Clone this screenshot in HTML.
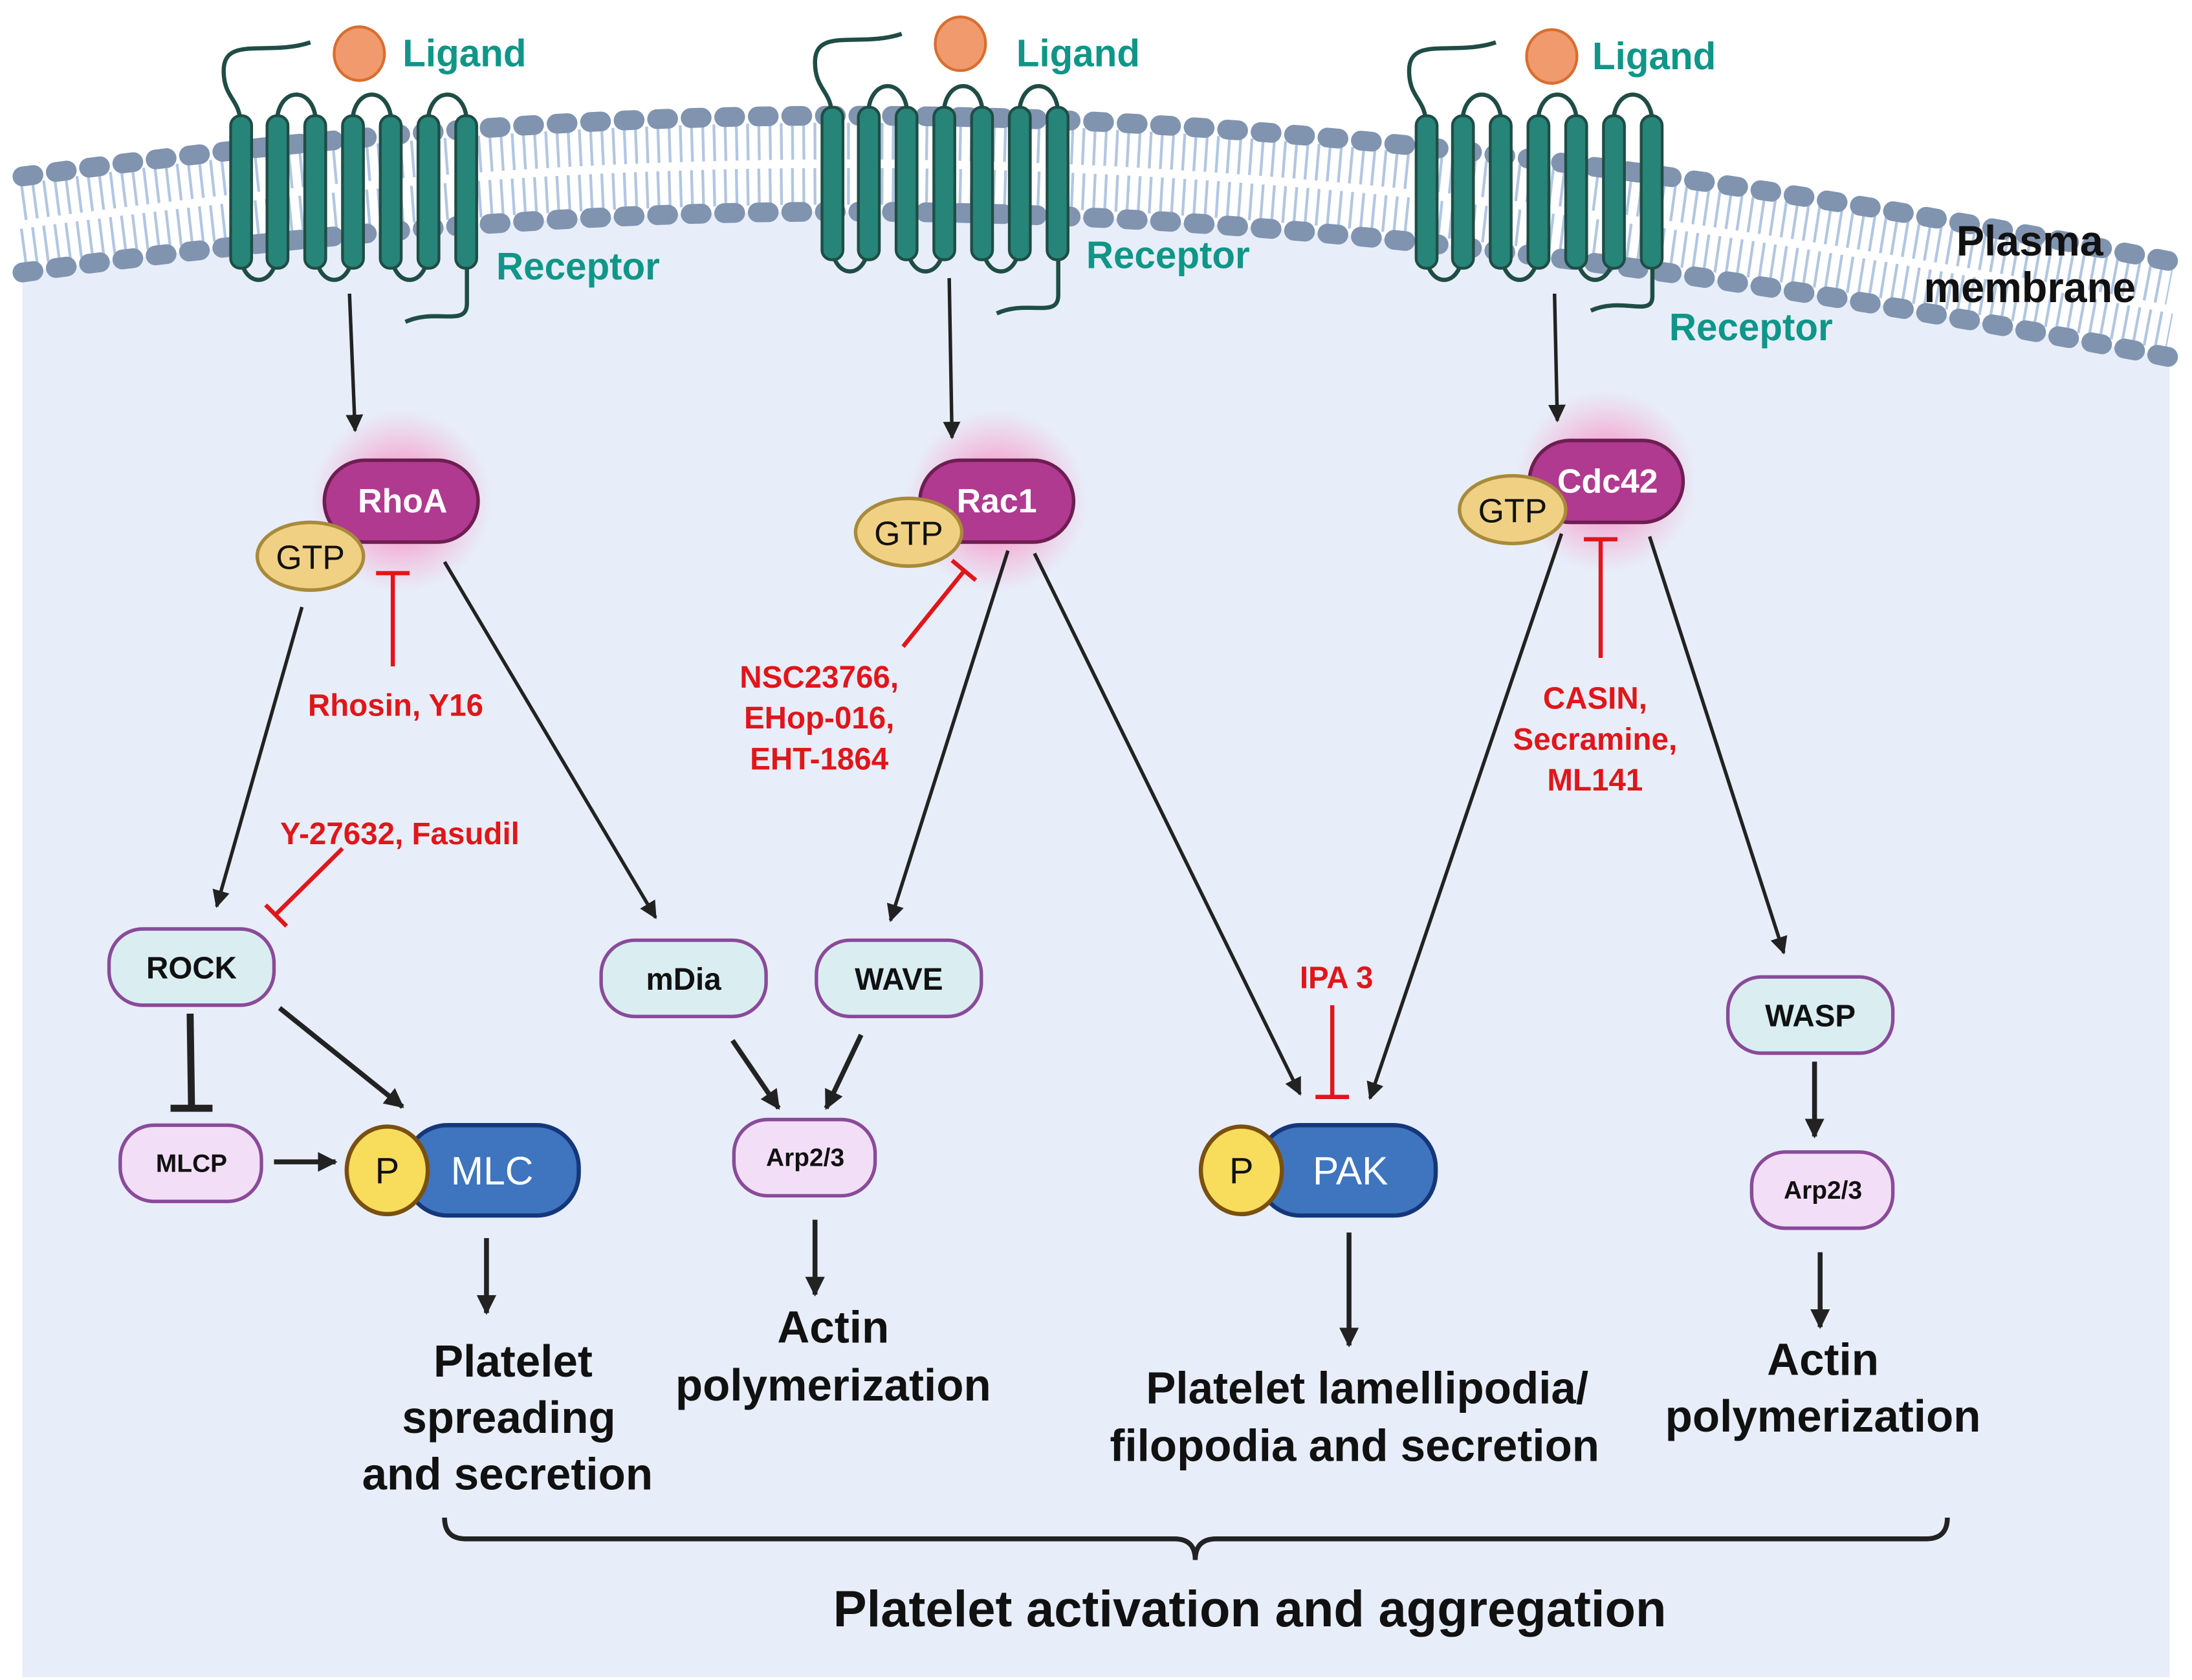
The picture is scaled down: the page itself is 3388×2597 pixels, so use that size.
<!DOCTYPE html>
<html><head><meta charset="utf-8"><style>html,body{margin:0;padding:0;background:#fff}svg{display:block}</style></head><body>
<svg width="3388" height="2597" viewBox="0 0 1568 1190" preserveAspectRatio="none" xmlns="http://www.w3.org/2000/svg" font-family="Liberation Sans, sans-serif">
<defs>
<marker id="ah" viewBox="0 0 10 10" refX="9" refY="5" markerWidth="5" markerHeight="5" orient="auto" markerUnits="strokeWidth"><path d="M0,0 L10,5 L0,10 z" fill="#222"/></marker>
<marker id="ah2" viewBox="0 0 10 10" refX="9" refY="5" markerWidth="4" markerHeight="4" orient="auto" markerUnits="strokeWidth"><path d="M0,0 L10,5 L0,10 z" fill="#222"/></marker>
<radialGradient id="glow"><stop offset="0" stop-color="#ff5aa8" stop-opacity="0.9"/><stop offset="1" stop-color="#ff8ac0" stop-opacity="0"/></radialGradient>
</defs>
<path d="M16,125 C500,60 900,60 1552,185 L1552,1188 L16,1188 Z" fill="#e7eef9"/>
<path d="M16,125 C500,60 900,60 1552,185 L1552,253 C900,128 500,128 16,193 Z" fill="#fff"/>
<path d="M16,143 C500,78 900,78 1552,203" fill="none" stroke="#b2c6e2" stroke-width="26" stroke-dasharray="2 6"/>
<path d="M16,175 C500,110 900,110 1552,235" fill="none" stroke="#b2c6e2" stroke-width="26" stroke-dasharray="2 6"/>
<path d="M16,125 C500,60 900,60 1552,185" fill="none" stroke="#8094b0" stroke-width="14" stroke-linecap="round" stroke-dasharray="8 16"/>
<path d="M16,193 C500,128 900,128 1552,253" fill="none" stroke="#8094b0" stroke-width="14" stroke-linecap="round" stroke-dasharray="8 16"/>

<g stroke="#1f4d45" stroke-width="3" fill="none">
 <g transform="translate(172,0)">
  <path d="M0,88 C0,70 -12,70 -12,50 C-12,25 20,40 50,30"/>
  <path d="M26,88 C26,60 54,60 54,88 M80,88 C80,60 108,60 108,88 M134,88 C134,60 162,60 162,88"/>
  <path d="M0,178 C0,205 26,205 26,178 M54,178 C54,205 80,205 80,178 M108,178 C108,205 134,205 134,178"/>
  <path d="M162,178 L162,215 C162,232 140,218 118,228"/>
  <g fill="#278478" stroke="#1f4d45" stroke-width="2">
   <rect x="-7" y="82" width="15" height="108" rx="7"/><rect x="19" y="82" width="15" height="108" rx="7"/><rect x="46" y="82" width="15" height="108" rx="7"/><rect x="73" y="82" width="15" height="108" rx="7"/><rect x="100" y="82" width="15" height="108" rx="7"/><rect x="127" y="82" width="15" height="108" rx="7"/><rect x="154" y="82" width="15" height="108" rx="7"/>
  </g>
 </g>
 <g transform="translate(595,-6)">
  <path d="M0,88 C0,70 -12,70 -12,50 C-12,25 20,40 50,30"/>
  <path d="M26,88 C26,60 54,60 54,88 M80,88 C80,60 108,60 108,88 M134,88 C134,60 162,60 162,88"/>
  <path d="M0,178 C0,205 26,205 26,178 M54,178 C54,205 80,205 80,178 M108,178 C108,205 134,205 134,178"/>
  <path d="M162,178 L162,215 C162,232 140,218 118,228"/>
  <g fill="#278478" stroke="#1f4d45" stroke-width="2">
   <rect x="-7" y="82" width="15" height="108" rx="7"/><rect x="19" y="82" width="15" height="108" rx="7"/><rect x="46" y="82" width="15" height="108" rx="7"/><rect x="73" y="82" width="15" height="108" rx="7"/><rect x="100" y="82" width="15" height="108" rx="7"/><rect x="127" y="82" width="15" height="108" rx="7"/><rect x="154" y="82" width="15" height="108" rx="7"/>
  </g>
 </g>
 <g transform="translate(1020,0)">
  <path d="M0,88 C0,70 -12,70 -12,50 C-12,25 20,40 50,30"/>
  <path d="M26,88 C26,60 54,60 54,88 M80,88 C80,60 108,60 108,88 M134,88 C134,60 162,60 162,88"/>
  <path d="M0,178 C0,205 26,205 26,178 M54,178 C54,205 80,205 80,178 M108,178 C108,205 134,205 134,178"/>
  <path d="M162,178 L162,210 C162,225 140,210 118,220"/>
  <g fill="#278478" stroke="#1f4d45" stroke-width="2">
   <rect x="-7" y="82" width="15" height="108" rx="7"/><rect x="19" y="82" width="15" height="108" rx="7"/><rect x="46" y="82" width="15" height="108" rx="7"/><rect x="73" y="82" width="15" height="108" rx="7"/><rect x="100" y="82" width="15" height="108" rx="7"/><rect x="127" y="82" width="15" height="108" rx="7"/><rect x="154" y="82" width="15" height="108" rx="7"/>
  </g>
 </g>
</g>
<g fill="#f09a6e" stroke="#d86e30" stroke-width="2">
 <ellipse cx="257" cy="38" rx="18" ry="19"/><ellipse cx="687" cy="31" rx="18" ry="19"/><ellipse cx="1110" cy="40" rx="18" ry="19"/>
</g>
<g fill="#0f9688" font-weight="bold" font-size="27">
 <text x="288" y="47">Ligand</text><text x="727" y="47">Ligand</text><text x="1139" y="49">Ligand</text>
 <text x="355" y="198">Receptor</text><text x="777" y="190">Receptor</text><text x="1194" y="241">Receptor</text>
</g>
<g font-weight="bold" font-size="30" fill="#111" text-anchor="middle">
 <text x="1452" y="181">Plasma</text><text x="1452" y="214">membrane</text>
</g>

<circle cx="287" cy="355" r="65" fill="url(#glow)"/>
<circle cx="713" cy="355" r="65" fill="url(#glow)"/>
<circle cx="1149" cy="341" r="65" fill="url(#glow)"/>
<g fill="#b03a8f" stroke="#6e1e52" stroke-width="2.5">
 <rect x="232" y="326" width="110" height="58" rx="29"/>
 <rect x="658" y="326" width="110" height="58" rx="29"/>
 <rect x="1094" y="312" width="110" height="58" rx="29"/>
</g>
<g fill="#f0d184" stroke="#a88a3a" stroke-width="2.5">
 <ellipse cx="222" cy="394" rx="38" ry="24"/><ellipse cx="650" cy="377" rx="38" ry="24"/><ellipse cx="1082" cy="361" rx="38" ry="24"/>
</g>
<g fill="#fff" font-weight="bold" font-size="24" text-anchor="middle">
 <text x="288" y="363">RhoA</text><text x="713" y="363">Rac1</text><text x="1150" y="349">Cdc42</text>
</g>
<g fill="#111" font-size="24" text-anchor="middle">
 <text x="222" y="403">GTP</text><text x="650" y="386">GTP</text><text x="1082" y="370">GTP</text>
</g>

<g fill="#daeef2" stroke="#8a4a99" stroke-width="2.5">
 <rect x="78" y="658" width="118" height="54" rx="24"/>
 <rect x="430" y="666" width="118" height="54" rx="24"/>
 <rect x="584" y="666" width="118" height="54" rx="24"/>
 <rect x="1236" y="692" width="118" height="54" rx="24"/>
</g>
<g fill="#f2dff7" stroke="#8a4a99" stroke-width="2.5">
 <rect x="86" y="797" width="101" height="54" rx="24"/>
 <rect x="525" y="793" width="101" height="54" rx="24"/>
 <rect x="1253" y="816" width="101" height="54" rx="24"/>
</g>
<g fill="#111" font-weight="bold" text-anchor="middle">
 <text x="137" y="693" font-size="22">ROCK</text>
 <text x="489" y="701" font-size="22">mDia</text>
 <text x="643" y="701" font-size="22">WAVE</text>
 <text x="1295" y="727" font-size="22">WASP</text>
 <text x="137" y="830" font-size="18">MLCP</text>
 <text x="576" y="826" font-size="18">Arp2/3</text>
 <text x="1304" y="849" font-size="18">Arp2/3</text>
</g>
<g fill="#3f74be" stroke="#15377a" stroke-width="3">
 <rect x="290" y="797" width="124" height="64" rx="30"/>
 <rect x="900" y="797" width="127" height="64" rx="30"/>
</g>
<g fill="#f8dc5c" stroke="#7a5010" stroke-width="3">
 <ellipse cx="277" cy="829" rx="29" ry="31"/><ellipse cx="888" cy="829" rx="29" ry="31"/>
</g>
<g font-size="26" text-anchor="middle">
 <text x="277" y="838" fill="#111">P</text><text x="888" y="838" fill="#111">P</text>
 <text x="352" y="839" fill="#fff" font-size="28">MLC</text><text x="966" y="839" fill="#fff" font-size="28">PAK</text>
</g>

<g stroke="#222" stroke-width="2.5" fill="none" marker-end="url(#ah)">
 <line x1="250" y1="208" x2="254" y2="305"/>
 <line x1="679" y1="197" x2="681" y2="310"/>
 <line x1="1112" y1="208" x2="1114" y2="298"/>
 <line x1="216" y1="430" x2="155" y2="642"/>
 <line x1="318" y1="398" x2="469" y2="650"/>
 <line x1="721" y1="390" x2="637" y2="652"/>
 <line x1="740" y1="392" x2="930" y2="775"/>
 <line x1="1117" y1="378" x2="980" y2="778"/>
 <line x1="1180" y1="380" x2="1276" y2="675"/>
</g>
<g stroke="#222" stroke-width="3.5" fill="none" marker-end="url(#ah2)">
 <line x1="200" y1="714" x2="288" y2="784"/>
 <line x1="196" y1="823" x2="240" y2="823"/>
 <line x1="524" y1="737" x2="557" y2="785"/>
 <line x1="616" y1="733" x2="591" y2="785"/>
 <line x1="348" y1="877" x2="348" y2="930"/>
 <line x1="583" y1="864" x2="583" y2="917"/>
 <line x1="965" y1="873" x2="965" y2="953"/>
 <line x1="1298" y1="752" x2="1298" y2="805"/>
 <line x1="1302" y1="887" x2="1302" y2="940"/>
</g>
<g stroke="#222" stroke-width="5" fill="none">
 <line x1="136" y1="718" x2="137" y2="784"/><line x1="122" y1="785" x2="152" y2="785"/>
</g>
<g stroke="#e0161a" stroke-width="3" fill="none">
 <line x1="281" y1="472" x2="281" y2="406"/><line x1="269" y1="406" x2="293" y2="406"/>
 <line x1="245" y1="601" x2="198" y2="647"/><line x1="190" y1="641" x2="205" y2="656"/>
 <line x1="646" y1="458" x2="690" y2="404"/><line x1="681" y1="397" x2="698" y2="411"/>
 <line x1="1145" y1="466" x2="1145" y2="382"/><line x1="1133" y1="382" x2="1157" y2="382"/>
 <line x1="953" y1="712" x2="953" y2="777"/><line x1="941" y1="777" x2="965" y2="777"/>
</g>
<g fill="#e0161a" font-weight="bold" font-size="22" text-anchor="middle">
 <text x="283" y="507">Rhosin, Y16</text>
 <text x="286" y="598">Y-27632, Fasudil</text>
 <text x="586" y="487">NSC23766,</text><text x="586" y="516">EHop-016,</text><text x="586" y="545">EHT-1864</text>
 <text x="1141" y="502">CASIN,</text><text x="1141" y="531">Secramine,</text><text x="1141" y="560">ML141</text>
 <text x="956" y="700">IPA 3</text>
</g>
<g fill="#111" font-weight="bold" font-size="32" text-anchor="middle">
 <text x="367" y="975">Platelet</text><text x="364" y="1015">spreading</text><text x="363" y="1055">and secretion</text>
 <text x="596" y="951">Actin</text><text x="596" y="992">polymerization</text>
 <text x="978" y="994">Platelet lamellipodia/</text><text x="969" y="1035">filopodia and secretion</text>
 <text x="1304" y="974">Actin</text><text x="1304" y="1014">polymerization</text>
 <text x="894" y="1152" font-size="36">Platelet activation and aggregation</text>
</g>
<path d="M318,1075 Q318,1090 333,1090 L840,1090 Q855,1090 855,1105 Q855,1090 870,1090 L1378,1090 Q1393,1090 1393,1075" fill="none" stroke="#222" stroke-width="3.5"/>
</svg>
</body></html>
